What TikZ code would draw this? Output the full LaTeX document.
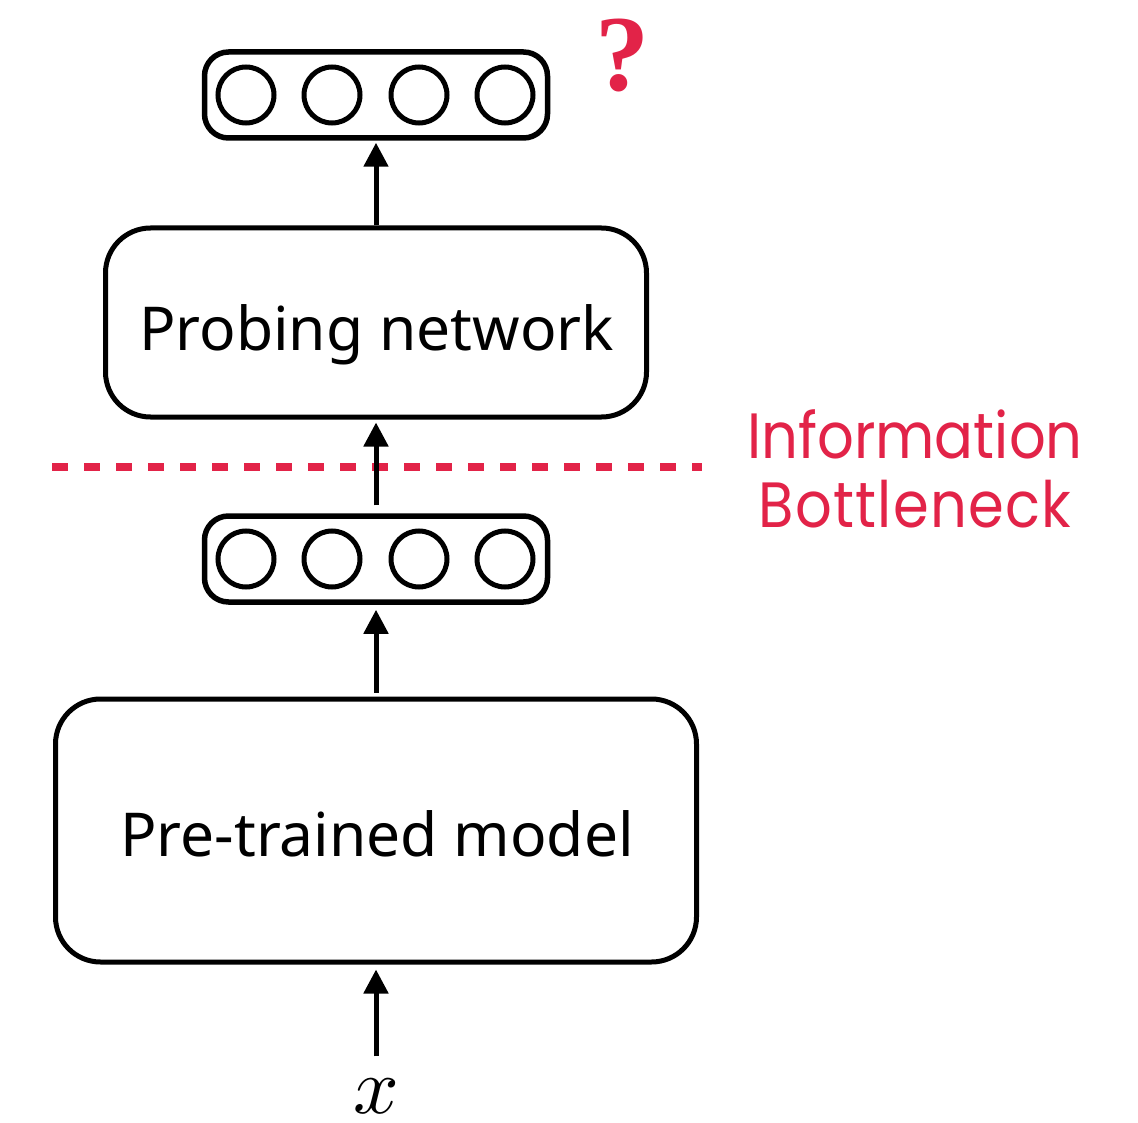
\documentclass[tikz,border=0pt]{standalone}
\usepackage{fontspec}
\setmainfont{Noto Sans}
\newfontfamily\redfont[FakeStretch=0.9]{Poppins}
\newfontfamily\qfont{Liberation Serif}
\newfontfamily\mathfont{latinmodern-math.otf}
\usetikzlibrary{arrows.meta}
\definecolor{ibred}{RGB}{226,35,72}
\tikzset{
  px/.style={x=1pt,y=-1pt},
  blockbox/.style={draw, line width=5pt, rounded corners=45pt, inner sep=0pt},
  vecbox/.style={draw, line width=5.5pt, rounded corners=24pt, minimum width=343pt, minimum height=86pt, inner sep=0pt},
  unit/.style={draw, circle, line width=5pt, minimum size=56pt, inner sep=0pt},
  flow/.style={line width=5pt, -{Triangle[length=24pt,width=24pt]}},
  label/.style={font=\fontsize{60.5}{66}\selectfont, text=black, anchor=base, inner sep=0pt},
  iblabel/.style={font=\redfont\fontsize{64}{68}\selectfont, text=ibred, anchor=base, inner sep=0pt}
}
\begin{document}
\begin{tikzpicture}[px]
  \useasboundingbox (0,0) rectangle (1138,1123);

  % output vector
  \node[vecbox] (outvec) at (376,95) {};
  \foreach \i/\cx in {1/246,2/332,3/419,4/505}
    \node[unit] (o\i) at (\cx,95) {};
  \node[font=\qfont\bfseries\fontsize{108}{112}\selectfont, text=ibred] (q) at (622,56) {?};

  % probing network
  \node[blockbox, minimum width=541pt, minimum height=189pt] (probe) at (376,322.5) {};
  \node[label] (probetext) at (376.5,350) {Probing network};

  % bottleneck representation
  \node[vecbox] (repvec) at (376,559) {};
  \foreach \i/\cx in {1/246,2/332,3/419,4/505}
    \node[unit] (r\i) at (\cx,559) {};

  % pre-trained model
  \node[blockbox, minimum width=641pt, minimum height=263pt] (model) at (376,830.5) {};
  \node[label] (modeltext) at (377,856) {Pre-trained model};

  % input
  \node[font=\mathfont\fontsize{80}{84}\selectfont, inner sep=0pt, anchor=base] (x) at (376,1113) {𝑥};

  % information bottleneck marker
  \coordinate (ibL) at (52,467);
  \coordinate (ibR) at (702,467);
  \draw[ibred, line width=8pt, dash pattern=on 16pt off 16pt] (ibL) -- (ibR);
  \node[iblabel] (ib1) at (915,458) {Information};
  \node[iblabel, font=\redfont\fontsize{64}{68}\selectfont\addfontfeature{LetterSpace=2}] (ib2) at (915,527) {Bottleneck};

  % connections
  \draw[flow] ([yshift=21pt]x.north) -- ([yshift=-5pt]model.south);
  \draw[flow] ([yshift=4pt]model.north) -- ([yshift=-5pt]repvec.south);
  \draw[flow] ([yshift=8pt]repvec.north) -- ([yshift=-3pt]probe.south);
  \draw[flow] (probe.north) -- ([yshift=-2pt]outvec.south);
\end{tikzpicture}
\end{document}
